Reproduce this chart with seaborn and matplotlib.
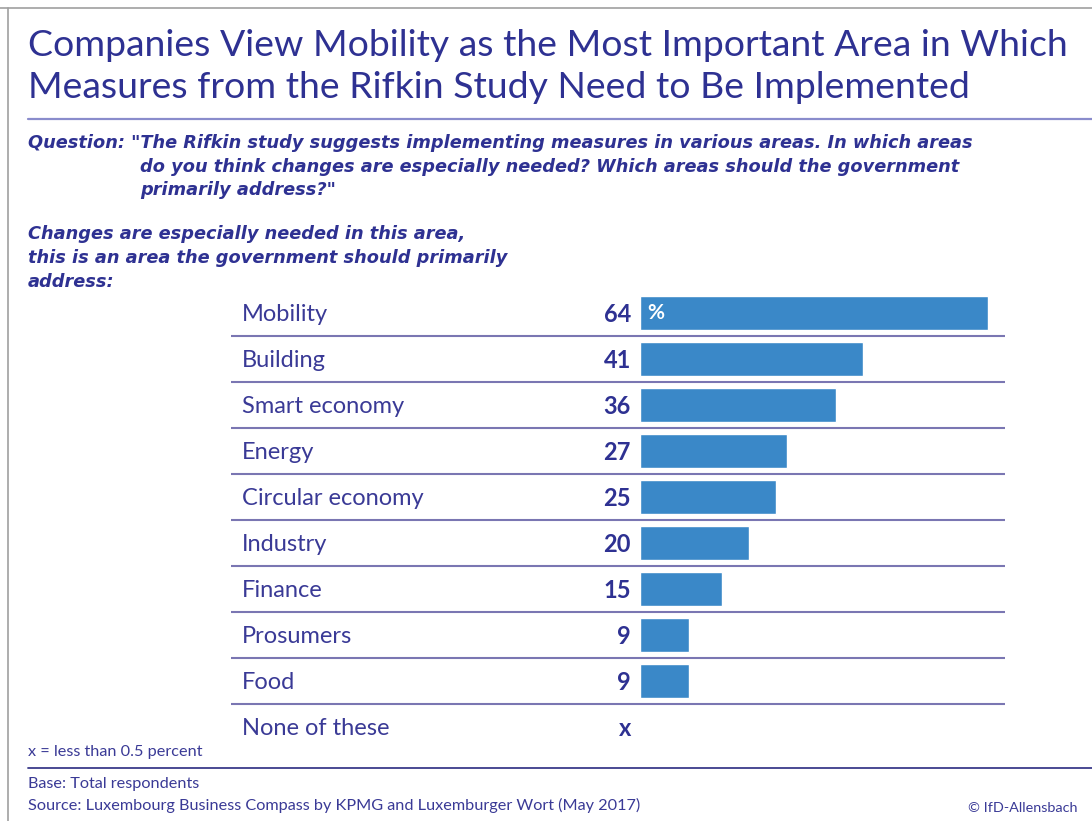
import matplotlib
matplotlib.use("Agg")
import matplotlib.pyplot as plt
import seaborn as sns
import pandas as pd
import numpy as np
from matplotlib.lines import Line2D

categories = ["Mobility", "Building", "Smart economy", "Energy", "Circular economy",
              "Industry", "Finance", "Prosumers", "Food", "None of these"]
values = [64, 41, 36, 27, 25, 20, 15, 9, 9, np.nan]
value_labels = ["64", "41", "36", "27", "25", "20", "15", "9", "9", "x"]

title_lines = ["Companies View Mobility as the Most Important Area in Which",
               "Measures from the Rifkin Study Need to Be Implemented"]
question_lines = ['Question: "The Rifkin study suggests implementing measures in various areas. In which areas',
                  'do you think changes are especially needed? Which areas should the government',
                  'primarily address?"']
answer_lines = ["Changes are especially needed in this area,",
                "this is an area the government should primarily",
                "address:"]
footnote = "x = less than 0.5 percent"
base_text = "Base: Total respondents"
source_text = "Source: Luxembourg Business Compass by KPMG and Luxemburger Wort (May 2017)"
credit = "© IfD-Allensbach"

DARK = "#2e3192"
LABEL = "#3a3a96"
BAR = "#3a88c8"
SEP = "#7a76b2"

sns.set_theme(style="white")
plt.rcParams["font.family"] = ["Lato", "DejaVu Sans"]

W, H = 1092, 821
fig = plt.figure(figsize=(W / 100, H / 100), dpi=100)

def px(x, y):
    return x / W, 1 - y / H

# frame lines
fig.add_artist(Line2D([0, 1], [1 - 8 / H] * 2, color="#a0a0a0", lw=1.2, transform=fig.transFigure))
fig.add_artist(Line2D([8 / W] * 2, [0, 1 - 8 / H], color="#a0a0a0", lw=1.2, transform=fig.transFigure))
# title rule
fig.add_artist(Line2D([28 / W, 1], [1 - 119 / H] * 2, color="#8a8ccc", lw=1.6, transform=fig.transFigure))
# bottom rule
fig.add_artist(Line2D([28 / W, 1], [1 - 768 / H] * 2, color="#3a3a8a", lw=1.3, transform=fig.transFigure))

# title
for i, line in enumerate(title_lines):
    x, y = px(28, 46 + 42 * i)
    fig.text(x, y, line, fontsize=26.9, color=DARK, va="center", ha="left")

QFONT = ["DejaVu Sans"]
# question
for i, line in enumerate(question_lines):
    x, y = px(28 if i == 0 else 140, 143 + 23.5 * i)
    fig.text(x, y, line, fontsize=12.8, color=DARK, va="center", ha="left",
             fontweight="bold", fontstyle="italic", family=QFONT)

for i, line in enumerate(answer_lines):
    x, y = px(28, 234 + 24 * i)
    fig.text(x, y, line, fontsize=12.8, color=DARK, va="center", ha="left",
             fontweight="bold", fontstyle="italic", family=QFONT)

# chart axes
ax_left, ax_right = 231, 1005
ax_top, ax_bottom = 290, 750
ax = fig.add_axes([ax_left / W, 1 - ax_bottom / H, (ax_right - ax_left) / W, (ax_bottom - ax_top) / H])
df = pd.DataFrame({"category": categories, "value": values})
sns.barplot(data=df, y="category", x="value", orient="h", color=BAR, width=0.74,
            saturation=1, ax=ax, order=categories)

scale = 5.44
x0 = 640
ax.set_xlim((ax_left - x0) / scale, (ax_right - x0) / scale)
ax.set_ylim(len(categories) - 0.5, -0.5)
ax.axis("off")

for i in range(len(categories) - 1):
    ax.axhline(i + 0.5, color=SEP, lw=1.5)

for i, (cat, lab) in enumerate(zip(categories, value_labels)):
    ax.text((242 - x0) / scale, i + 0.03, cat, fontsize=17, color=LABEL, va="center", ha="left")
    ax.text((631 - x0) / scale, i + 0.03, lab, fontsize=17, color=DARK, va="center", ha="right",
            fontweight="bold")

ax.text((647 - x0) / scale, 0, "%", fontsize=15, color="white", va="center", ha="left",
        fontweight="bold")

# footnotes
x, y = px(28, 752)
fig.text(x, y, footnote, fontsize=11.7, color=LABEL, va="center", ha="left")
x, y = px(28, 784)
fig.text(x, y, base_text, fontsize=11.7, color=LABEL, va="center", ha="left")
x, y = px(28, 805)
fig.text(x, y, source_text, fontsize=11.7, color=LABEL, va="center", ha="left")
x, y = px(1078, 808)
fig.text(x, y, credit, fontsize=10.4, color=LABEL, va="center", ha="right")

fig.savefig("out.png", dpi=100)
